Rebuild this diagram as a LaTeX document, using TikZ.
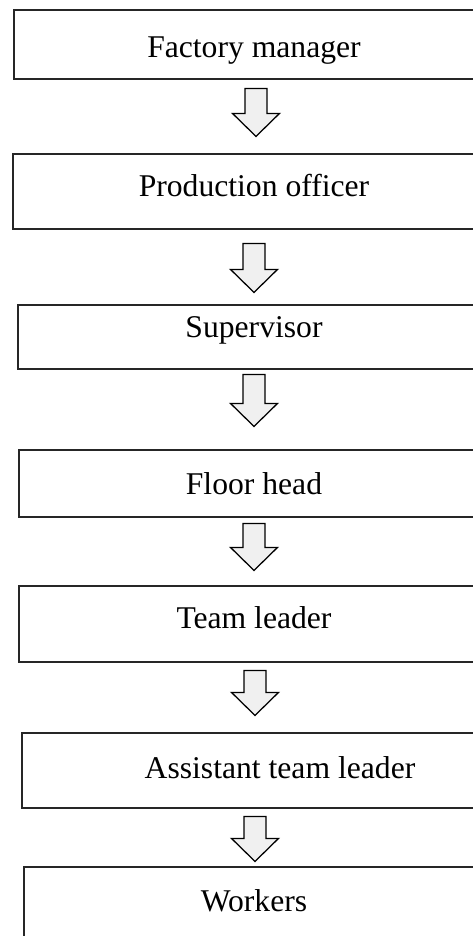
\documentclass[tikz,border=0pt]{standalone}
\usepackage{fontspec}
\setmainfont{Liberation Serif}
\usetikzlibrary{calc}

\newcommand{\pxu}{0.025cm}
\newcommand{\sobe}[2]{\raisebox{#1}[\height][\depth]{#2}}
\tikzset{
    caixa/.style={draw=black!85, line width=0.8pt, rectangle, inner sep=0pt,
        font=\fontsize{22.5}{27}\selectfont},
    setabloco/.style={draw=black, line width=0.9pt, fill=black!6, line join=miter}
}
% seta em bloco: #1 = topo, #2 = ponta
\newcommand{\setabloco}[2]{%
    \draw[setabloco] let \p1=(#1), \p2=(#2) in
        (\x1-11*\pxu,\y1) -- (\x1+11*\pxu,\y1) -- (\x1+11*\pxu,\y2+23*\pxu)
        -- (\x1+23.5*\pxu,\y2+23*\pxu) -- (\x1,\y2) -- (\x1-23.5*\pxu,\y2+23*\pxu)
        -- (\x1-11*\pxu,\y2+23*\pxu) -- cycle;}

\begin{document}
\begin{tikzpicture}[x=0.025cm, y=-0.025cm]
        \useasboundingbox (0, 0) rectangle (473, 936);
        \clip (0, 0) rectangle (473, 936);

        % Caixas
        \node[caixa, minimum width=12cm, minimum height=1.725cm] (manager) at (254, 44.5) {\sobe{-0.15cm}{Factory manager}};
        \node[caixa, minimum width=12.05cm, minimum height=1.875cm] (officer) at (254, 191.5) {\sobe{0.15cm}{Production officer}};
        \node[caixa, minimum width=11.8cm, minimum height=1.6cm] (supervisor) at (254, 337) {\sobe{0.175cm}{Supervisor}};
        \node[caixa, minimum width=11.75cm, minimum height=1.675cm] (floorhead) at (254, 483.5) {Floor head};
        \node[caixa, minimum width=11.75cm, minimum height=1.9cm] (teamleader) at (254, 624) {\sobe{0.15cm}{Team leader}};
        \node[caixa, minimum width=11.6cm, minimum height=1.875cm] (assistant) at (254, 770.5) {\sobe{0.075cm}{\hspace*{1.3cm}Assistant team leader}};
        \node[caixa, minimum width=11.5cm, minimum height=1.9cm] (workers) at (254, 905) {\sobe{0.1cm}{Workers}};

        % Setas
        \setabloco{$(manager.south)+(2, 9)$}{$(officer.north)+(2, -17)$}
        \setabloco{$(officer.south)+(0, 14)$}{$(supervisor.north)+(0, -12)$}
        \setabloco{$(supervisor.south)+(0, 5)$}{$(floorhead.north)+(0, -23)$}
        \setabloco{$(floorhead.south)+(0, 6)$}{$(teamleader.north)+(0, -15)$}
        \setabloco{$(teamleader.south)+(1, 8)$}{$(assistant.north)+(1, -17)$}
        \setabloco{$(assistant.south)+(1, 8)$}{$(workers.north)+(1, -5)$}

    \end{tikzpicture}
\end{document}
